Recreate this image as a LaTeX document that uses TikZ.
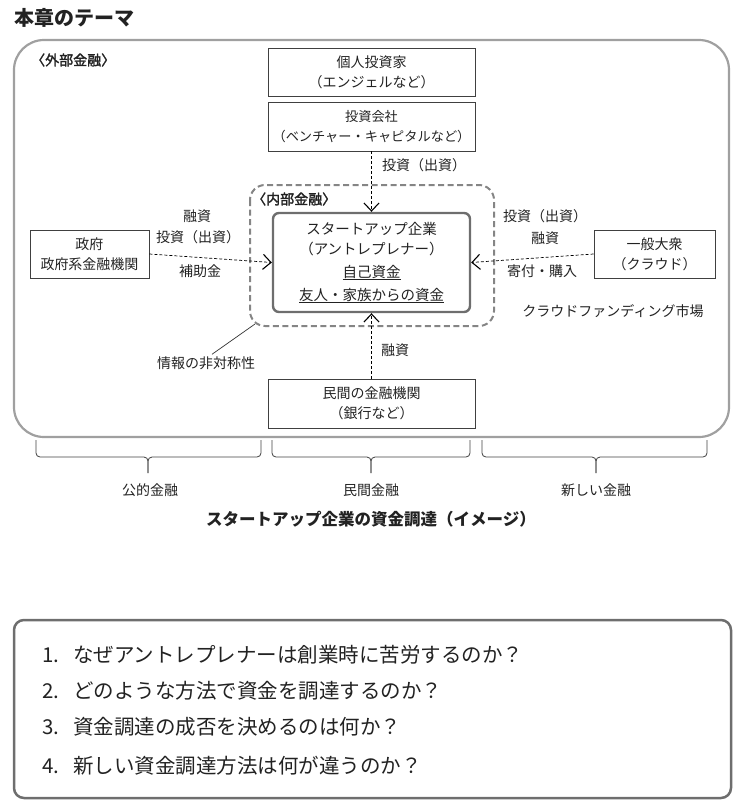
\documentclass[tikz,border=0pt]{standalone}
\usepackage{fontspec}
\setmainfont{Noto Sans CJK JP}
\newfontfamily\medfont[FakeBold=2]{Noto Sans CJK JP}
\usetikzlibrary{arrows.meta}
\definecolor{framegray}{HTML}{A0A0A0}
\definecolor{innergray}{HTML}{858585}
\definecolor{firmgray}{HTML}{6E6E6E}
\definecolor{textblack}{HTML}{222222}
\newcommand\fundbrace[3]{% left end, tip, right end
  \draw [brace line] (#1, 440) -- (#1, 457) -- (#2, 457) -- (#2, 473);
  \draw [brace line] (#3, 440) -- (#3, 457) -- (#2, 457) -- (#2, 473);
}
\begin{document}
\begin{tikzpicture}[x = 1pt, y = -1pt, text = textblack,
    box/.style = {draw = black!75, line width = 0.8pt, minimum width = 207pt, minimum height = 48pt,
      align = center, inner sep = 0pt, font = \fontsize{14}{20}\selectfont},
    lbl/.style = {inner sep = 0pt, font = \fontsize{14}{18}\selectfont},
    heading/.style = {inner sep = 0pt, anchor = west, font = \fontsize{14}{18}\medfont},
    flow/.style = {dash pattern = on 3pt off 2pt, line width = 0.7pt,
      -{Straight Barb[length = 8pt, width = 15pt, line width = 1.1pt]}},
    brace line/.style = {draw = black!75, line width = 0.8pt, rounded corners = 4pt},
    question/.style = {inner sep = 0pt, anchor = west, font = \fontsize{20.5}{24}\selectfont}]
    \useasboundingbox (0, 0) rectangle (742, 804);
    % title and frames
    \node [inner sep = 0pt, anchor = west, font = \fontsize{20}{24}\bfseries] (theme) at (14, 18) {本章のテーマ};
    \draw [framegray, line width = 2.2pt, rounded corners = 30pt] (14, 40) rectangle (729, 437);
    \node [heading] (outside) at (31, 60) {〈外部金融〉};
    \draw [innergray, line width = 2pt, dash pattern = on 6pt off 3.5pt, rounded corners = 15pt] (250, 185) rectangle (494, 326);
    \node [heading] (inside) at (252, 199) {〈内部金融〉};
    \coordinate (asym) at (255, 324);
    % sources of money
    \node [box] (angel) at (371.5, 72) {個人投資家\\（エンジェルなど）};
    \node [box, minimum height = 49pt, font = \fontsize{13.2}{20}\selectfont] (vc) at (371.5, 126.5) {投資会社\\（ベンチャー・キャピタルなど）};
    \node [box, minimum width = 119pt] (gov) at (89.5, 254) {政府\\政府系金融機関};
    \node [box, minimum width = 121pt] (crowd) at (654.5, 254) {一般大衆\\（クラウド）};
    \node [box, minimum height = 49pt] (bank) at (371.5, 403.5) {民間の金融機関\\（銀行など）};
    \node [box, draw = firmgray, line width = 2.4pt, rounded corners = 6pt, minimum width = 197pt, minimum height = 99pt,
      font = \fontsize{14.5}{20}\selectfont] (startup) at (371.5, 262.5)
      {スタートアップ企業\\（アントレプレナー）\\[3pt]\underline{自己資金}\\[3pt]\underline{友人・家族からの資金}};
    % flows
    \draw [flow] (vc.south) -- (startup.north);
    \draw [flow] (gov.east) -- (startup.west);
    \draw [flow] (crowd.west) -- (startup.east);
    \draw [flow] (bank.north) -- (startup.south);
    \node [lbl] (vcl) at (424, 165) {投資（出資）};
    \node [lbl] (govl1) at (197, 216) {融資};
    \node [lbl] (govl2) at (198, 237) {投資（出資）};
    \node [lbl] (govl3) at (200, 271) {補助金};
    \node [lbl] (crowdl1) at (545, 216) {投資（出資）};
    \node [lbl] (crowdl2) at (545, 238) {融資};
    \node [lbl] (crowdl3) at (542, 271) {寄付・購入};
    \node [lbl] (bankl) at (395, 350) {融資};
    \node [lbl] (market) at (613, 311) {クラウドファンディング市場};
    \node [lbl] (info) at (206, 363) {情報の非対称性};
    \draw [black!80, line width = 0.7pt] ([xshift = 6pt, yshift = 2pt]info.north) -- (asym);
    % kinds of finance
    \fundbrace{36}{148}{261}
    \fundbrace{272}{371}{470}
    \fundbrace{482}{596}{707}
    \node [lbl] (public) at (150, 490) {公的金融};
    \node [lbl] (private) at (371, 490) {民間金融};
    \node [lbl] (newfin) at (596, 490) {新しい金融};
    \node [inner sep = 0pt, font = \fontsize{16.5}{20}\bfseries] (caption) at (371, 519) {スタートアップ企業の資金調達（イメージ）};
    % questions
    \draw [firmgray, line width = 2.5pt, rounded corners = 10pt] (14, 620) rectangle (731, 798);
    \node [question] (q1) at (42, 655) {\makebox[31pt][l]{1.}なぜアントレプレナーは創業時に苦労するのか？};
    \node [question] (q2) at (42, 691) {\makebox[31pt][l]{2.}どのような方法で資金を調達するのか？};
    \node [question] (q3) at (42, 727) {\makebox[31pt][l]{3.}資金調達の成否を決めるのは何か？};
    \node [question] (q4) at (42, 766) {\makebox[31pt][l]{4.}新しい資金調達方法は何が違うのか？};
\end{tikzpicture}
\end{document}
